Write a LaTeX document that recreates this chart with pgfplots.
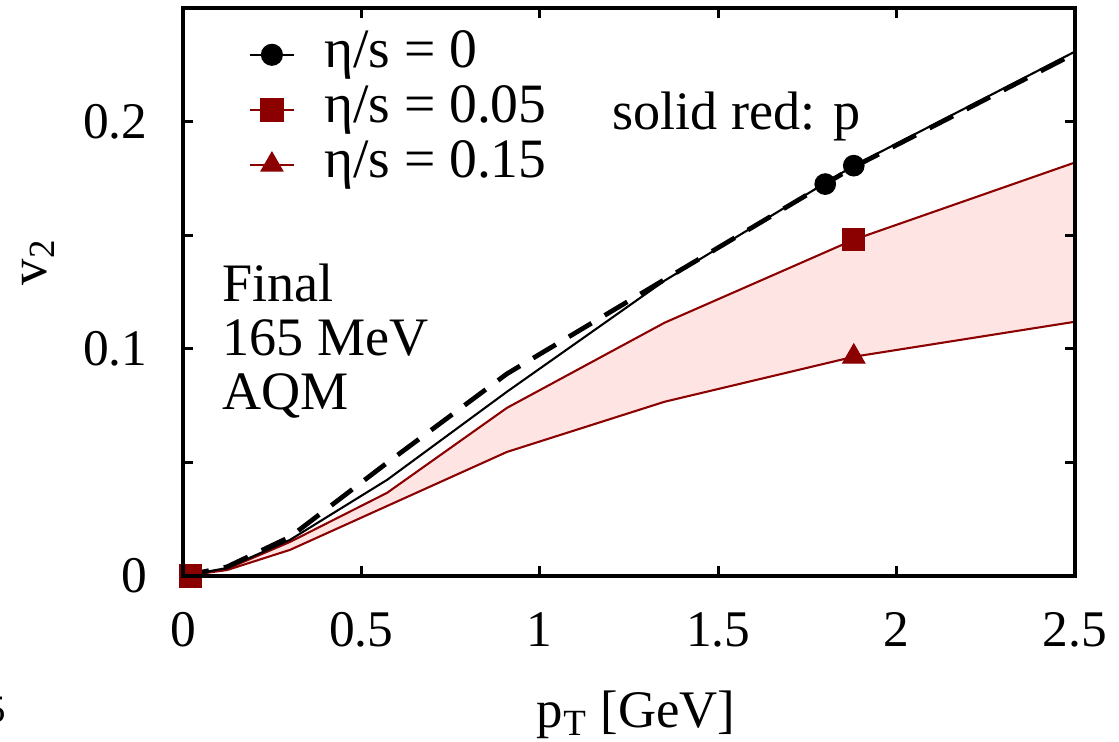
\documentclass[border=0pt]{standalone}
\usepackage{fontspec}
\setmainfont{Liberation Serif}
\usepackage{pgfplots}
\pgfplotsset{compat=1.18}
\usepgfplotslibrary{fillbetween}
\definecolor{dred}{RGB}{139,0,0}
\definecolor{fillpink}{RGB}{255,228,228}

\pgfplotstableread{
x      y
0      0
0.123  0.0035
0.30   0.0159
0.572  0.0423
0.908  0.0811
1.35   0.1300
1.88   0.1806
2.5    0.2308
}\blacksolid

\pgfplotstableread{
x      y
0      0
0.123  0.0040
0.30   0.0172
0.572  0.0498
0.908  0.0890
1.35   0.1305
1.88   0.1800
2.5    0.2300
}\blackdashed

\pgfplotstableread{
x      y
0      0
0.123  0.0031
0.30   0.0150
0.572  0.0366
0.908  0.0740
1.35   0.1115
1.88   0.1480
2.5    0.1820
}\redupper

\pgfplotstableread{
x      y
0      0
0.123  0.0026
0.30   0.0115
0.572  0.0308
0.908  0.0546
1.35   0.0767
1.88   0.0965
2.5    0.1119
}\redlower

\begin{document}
\begin{tikzpicture}[font=\rmfamily]
\begin{axis}[
  scale only axis, width=321.12pt, height=204.48pt,
  xmin=0, xmax=2.5, ymin=0, ymax=0.25,
  xtick={0,0.5,1,1.5,2,2.5},
  xticklabels={0,0.5,1,1.5,2,2.5},
  ytick={0,0.1,0.2}, yticklabels={0,0.1,0.2},
  minor ytick={0.05,0.15},
  tick align=inside, xtick pos=both, ytick pos=both,
  major tick length=3.6pt, minor tick length=3.6pt,
  every tick/.style={black, line width=1pt},
  axis line style={line width=1.1pt},
  tick label style={font=\rmfamily\fontsize{18.5}{20}\selectfont},
  xticklabel style={inner sep=0pt, anchor=north, yshift=-13pt},
  yticklabel style={inner sep=0pt, anchor=east, xshift=-12.6pt},
  xlabel={p\textsubscript{T} [GeV]},
  xlabel style={at={(axis description cs:0.508,-0.2676)}, anchor=base, inner sep=0pt, font=\rmfamily\fontsize{19}{21}\selectfont},
  ylabel={v\textsubscript{2}},
  ylabel style={at={(axis description cs:-0.1626,0.553)}, anchor=center, inner sep=0pt, font=\rmfamily\fontsize{19}{21}\selectfont},
  axis on top=true,
  legend style={at={(axis description cs:0.073,0.967)}, anchor=north west, draw=none, fill=none,
    inner sep=0pt, row sep=0pt, font=\rmfamily\fontsize{20}{22}\selectfont,
    nodes={text height=13pt, text depth=4pt, inner sep=1.4pt}},
  legend cell align=left,
  legend image code/.code={\draw[mark repeat=2,mark phase=2,#1] plot coordinates {(0pt,0pt) (8pt,0pt) (16pt,0pt)}; \path (25pt,0pt);},
]
\addlegendimage{black, line width=0.75pt, mark=*, mark size=3.6pt}
\addlegendentry{η/s = 0}
\addlegendimage{dred, line width=0.75pt, mark=square*, mark size=3.95pt}
\addlegendentry{η/s = 0.05}
\addlegendimage{dred, line width=0.75pt, mark=triangle*, mark size=4.2pt}
\addlegendentry{η/s = 0.15}

\addplot[name path=up, draw=none, forget plot] table {\redupper};
\addplot[name path=lo, draw=none, forget plot] table {\redlower};
\addplot[fillpink, forget plot] fill between[of=up and lo];

\addplot[dred, line width=0.75pt, forget plot] table {\redupper};
\addplot[dred, line width=0.75pt, forget plot] table {\redlower};
\addplot[black, line width=1.7pt, dash pattern=on 9.5pt off 5.5pt, forget plot] table {\blackdashed};
\addplot[black, line width=0.75pt, forget plot] table {\blacksolid};

\addplot[only marks, black, mark=*, mark size=3.7pt, forget plot] coordinates {(1.80,0.1725) (1.88,0.1806)};
\addplot[only marks, dred, mark=square*, mark size=3.95pt, forget plot] coordinates {(1.88,0.148)};
\addplot[only marks, dred, mark=triangle*, mark size=4.6pt, forget plot] coordinates {(1.88,0.0965)};
\addplot[only marks, dred, mark=square*, mark size=3.95pt, forget plot] coordinates {(0.02,0)};

\node[anchor=base west, inner sep=0pt, font=\rmfamily\fontsize{19.5}{21}\selectfont] at (axis cs:1.202,0.1965) {solid red: p};
\node[anchor=base west, inner sep=0pt, font=\rmfamily\fontsize{19.5}{21}\selectfont] at (axis cs:0.109,0.1207) {Final};
\node[anchor=base west, inner sep=0pt, font=\rmfamily\fontsize{19.5}{21}\selectfont] at (axis cs:0.109,0.0969) {165 MeV};
\node[anchor=base west, inner sep=0pt, font=\rmfamily\fontsize{19.5}{21}\selectfont] at (axis cs:0.109,0.0731) {AQM};
\end{axis}
\begin{scope}[overlay]
\node[anchor=base east, inner sep=0pt, font=\rmfamily\fontsize{14}{16}\selectfont] at (-63.4pt,-52.6pt) {5};
\end{scope}
\path (-65.88pt,-59.76pt) rectangle (336.96pt,207.36pt);
\end{tikzpicture}
\end{document}
